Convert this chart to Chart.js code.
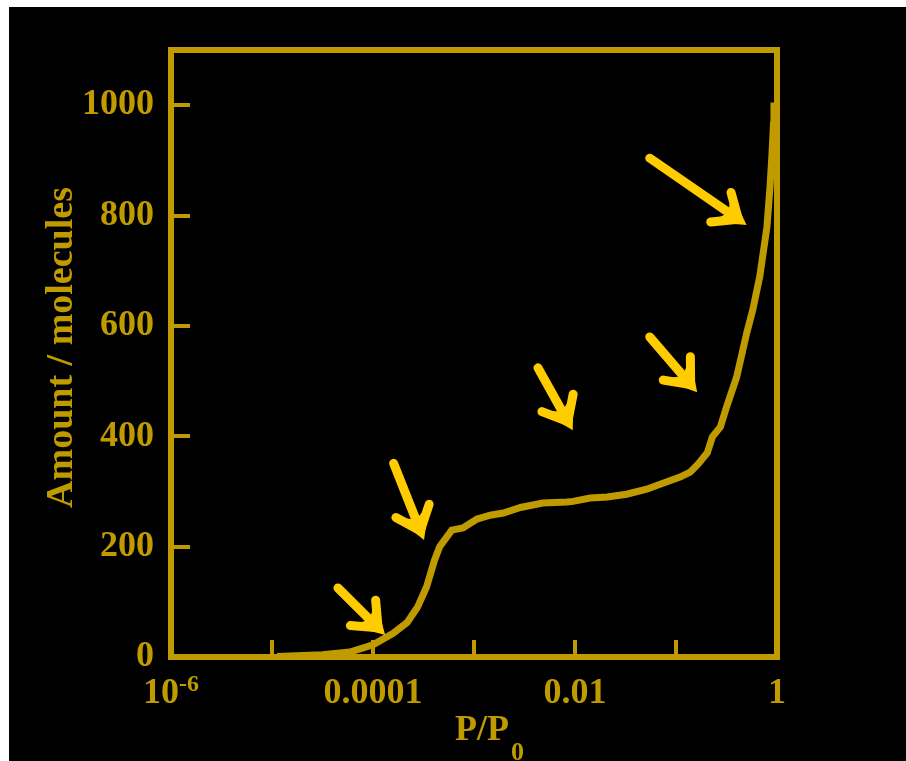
<!DOCTYPE html>
<html>
<head>
<meta charset="utf-8">
<script src="https://cdn.jsdelivr.net/npm/chart.js@4.4.0/dist/chart.umd.min.js"></script>
<style>
  html, body { margin: 0; padding: 0; background: #fff; }
  #box { position: absolute; left: 9px; top: 7px; width: 897px; height: 754px; background: #000; }
</style>
</head>
<body>
<div id="box"><canvas id="isoterma" width="897" height="754"></canvas></div>
<script>
// isotherm (P/P0, molecules)
const logP = [-4.95, -4.5, -4.23, -4.0, -3.8, -3.66, -3.56, -3.47, -3.39, -3.34, -3.22, -3.11, -2.97, -2.84, -2.71,
  -2.54, -2.32, -2.08, -2.02, -1.85, -1.68, -1.49, -1.29, -1.13, -0.96, -0.86, -0.78, -0.69, -0.64, -0.56, -0.5,
  -0.4, -0.3, -0.24, -0.17, -0.1, -0.07, -0.05, -0.035, -0.03];
const amount = [1, 4, 9, 22, 43, 63, 90, 127, 176, 200, 230, 234, 250, 257, 261,
  271, 279, 281, 282, 288, 290, 295, 304, 315, 326, 335, 350, 370, 399, 417, 453,
  507, 587, 629, 690, 779, 850, 910, 965, 1005];
const pressure = logP.map(v => Math.pow(10, v));

const yTicks = [0, 200, 400, 600, 800, 1000];
const xDecades = [1e-6, 1e-5, 1e-4, 1e-3, 1e-2, 1e-1, 1];
const xTickLabels = ['10', '', '0.0001', '', '0.01', '', '1'];

// arrows: tail -> head, in data units
const arrowFromP = [4.5e-5, 1.6e-4, 4.3e-3, 0.055, 0.055];
const arrowFromY = [125, 351, 524, 580, 904];
const arrowToP = [1.32e-4, 3.2e-4, 9.5e-3, 0.162, 0.5];
const arrowToY = [40, 212, 411, 480, 783];

const ouro = '#BF9B00';
const amarelo = '#FFCC00';
const fonte = '"Liberation Serif", "Times New Roman", serif';

const enfeites = {
  id: 'enfeites',
  afterDatasetsDraw(chart) {
    const ctx = chart.ctx;
    const xs = chart.scales.x, ys = chart.scales.y;
    ctx.save();
    // arrows
    ctx.strokeStyle = amarelo;
    ctx.fillStyle = amarelo;
    ctx.lineCap = 'round';
    ctx.lineJoin = 'round';
    for (let i = 0; i < arrowFromP.length; i++) {
      const x0 = xs.getPixelForValue(arrowFromP[i]), y0 = ys.getPixelForValue(arrowFromY[i]);
      const x1 = xs.getPixelForValue(arrowToP[i]), y1 = ys.getPixelForValue(arrowToY[i]);
      const ang = Math.atan2(y1 - y0, x1 - x0);
      const len = 36, abre = 0.52;
      const bx1 = x1 - len * Math.cos(ang - abre), by1 = y1 - len * Math.sin(ang - abre);
      const bx2 = x1 - len * Math.cos(ang + abre), by2 = y1 - len * Math.sin(ang + abre);
      const sx = x1 - 10 * Math.cos(ang), sy = y1 - 10 * Math.sin(ang);
      ctx.lineWidth = 9;
      ctx.beginPath();
      ctx.moveTo(x0, y0);
      ctx.lineTo(sx, sy);
      ctx.stroke();
      ctx.beginPath();
      ctx.moveTo(bx1, by1);
      ctx.lineTo(sx, sy);
      ctx.lineTo(bx2, by2);
      ctx.stroke();
      ctx.lineWidth = 1;
      ctx.beginPath();
      ctx.moveTo(x1, y1);
      ctx.lineTo(bx1, by1);
      ctx.lineTo(x1 - 22 * Math.cos(ang), y1 - 22 * Math.sin(ang));
      ctx.lineTo(bx2, by2);
      ctx.closePath();
      ctx.fill();
    }
    ctx.restore();
  },
  afterDraw(chart) {
    const ctx = chart.ctx;
    const a = chart.chartArea;
    const xs = chart.scales.x, ys = chart.scales.y;
    ctx.save();
    ctx.strokeStyle = ouro;
    ctx.fillStyle = ouro;
    // inward ticks
    ctx.lineWidth = 4;
    ctx.lineCap = 'butt';
    xDecades.forEach(v => {
      const x = Math.round(xs.getPixelForValue(v));
      ctx.beginPath();
      ctx.moveTo(x, a.bottom);
      ctx.lineTo(x, a.bottom - 17);
      ctx.stroke();
    });
    yTicks.forEach(v => {
      const y = Math.round(ys.getPixelForValue(v));
      ctx.beginPath();
      ctx.moveTo(a.left, y);
      ctx.lineTo(a.left + 19, y);
      ctx.stroke();
    });
    // frame
    ctx.lineWidth = 6;
    ctx.strokeRect(a.left, a.top, a.right - a.left, a.bottom - a.top);
    // x labels
    ctx.textBaseline = 'alphabetic';
    xDecades.forEach((v, i) => {
      const txt = xTickLabels[i];
      if (!txt) return;
      const x = xs.getPixelForValue(v);
      if (i === 0) {
        ctx.font = 'bold 36px ' + fonte;
        const w1 = ctx.measureText(txt).width;
        ctx.font = 'bold 24px ' + fonte;
        const w2 = ctx.measureText('-6').width;
        const left = x - (w1 + w2) / 2;
        ctx.textAlign = 'left';
        ctx.font = 'bold 36px ' + fonte;
        ctx.fillText(txt, left, a.bottom + 46);
        ctx.font = 'bold 24px ' + fonte;
        ctx.fillText('-6', left + w1, a.bottom + 34);
      } else {
        ctx.font = 'bold 36px ' + fonte;
        ctx.textAlign = 'center';
        ctx.fillText(txt, x, a.bottom + 46);
      }
    });
    // x title with subscript
    const cx = (a.left + a.right) / 2;
    ctx.textAlign = 'left';
    ctx.font = 'bold 36px ' + fonte;
    const wt = ctx.measureText('P/P').width;
    ctx.fillText('P/P', cx - 19, a.bottom + 83);
    ctx.font = 'bold 26px ' + fonte;
    ctx.fillText('0', cx - 19 + wt + 2, a.bottom + 103);
    // y title
    ctx.translate(53, (a.top + a.bottom) / 2 - 6);
    ctx.rotate(-Math.PI / 2);
    ctx.textAlign = 'center';
    ctx.textBaseline = 'middle';
    ctx.font = 'bold 38px ' + fonte;
    ctx.fillText('Amount / molecules', 0, 0);
    ctx.restore();
  }
};

const ctxIso = document.getElementById('isoterma').getContext('2d');
const graficoIso = new Chart(ctxIso, {
  type: 'line',
  data: {
    datasets: [{
      label: 'Amount',
      data: pressure.map((p, i) => ({ x: p, y: amount[i] })),
      borderColor: ouro,
      borderWidth: 7,
      pointRadius: 0,
      tension: 0,
      fill: false
    }]
  },
  options: {
    responsive: false,
    animation: false,
    layout: { padding: { top: 43, right: 129, left: 0, bottom: 0 } },
    plugins: { legend: { display: false }, tooltip: { enabled: false } },
    scales: {
      x: {
        type: 'logarithmic',
        min: 1e-6,
        max: 1,
        afterBuildTicks: s => { s.ticks = xDecades.map(v => ({ value: v })); },
        afterFit: s => { s.height = 104; },
        grid: { display: false, drawTicks: false },
        border: { display: false },
        ticks: { display: false }
      },
      y: {
        min: 0,
        max: 1100,
        afterBuildTicks: s => { s.ticks = yTicks.map(v => ({ value: v })); },
        afterFit: s => { s.width = 162; },
        grid: { display: false, drawTicks: false },
        border: { display: false },
        ticks: {
          color: ouro,
          padding: 17,
          font: { family: fonte, size: 36, weight: 'bold' },
          callback: v => String(v)
        }
      }
    }
  },
  plugins: [enfeites]
});
</script>
</body>
</html>
